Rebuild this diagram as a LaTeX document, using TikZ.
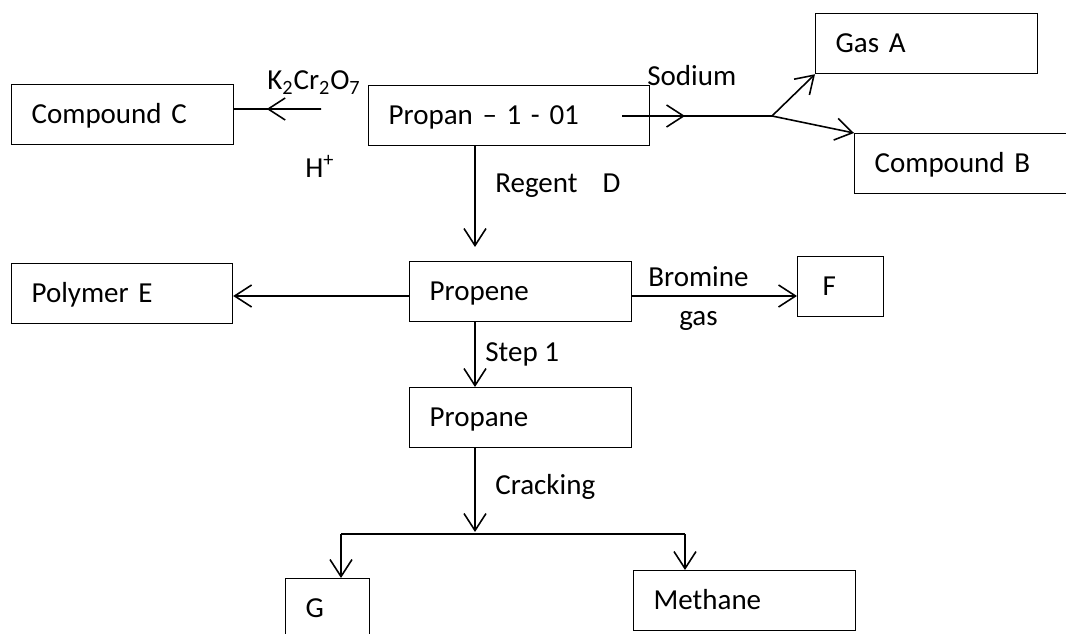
\documentclass[tikz,border=0pt]{standalone}
\usepackage{fontspec}
\setmainfont{Carlito}
\usetikzlibrary{calc,arrows.meta}
\tikzset{
  box/.style={draw, line width=0.7pt, align=left, inner xsep=0.4cm, inner ysep=0pt,
    minimum height=1.2cm, text height=0.45cm, text depth=0.1cm, anchor=north west},
  lbl/.style={anchor=base west, inner sep=0pt},
  link/.style={line width=0.9pt},
  >={Straight Barb[length=0.34cm,width=0.44cm]}
}

\begin{document}
\begin{tikzpicture}[x=0.02cm, y=-0.02cm, font=\fontsize{16.5}{20}\selectfont]
	%%%%% START %%%%%
	\useasboundingbox (0,0) rectangle (1066,634);
	\clip (0,0) rectangle (1066,634);
	
	\node[box, text width=3.64cm] (compC) at (11,84) {Compound C};
	\node[box, text width=4.82cm] (propanol) at (368,85) {Propan -- 1 - 01};
	\node[box, text width=3.64cm] (gasA) at (815,13) {Gas A};
	\node[box, text width=3.64cm] (compB) at (854,133) {Compound B};
	
	\node[box, text width=3.62cm] (polyE) at (11,263) {Polymer E};
	\node[box, text width=3.64cm] (propene) at (409,261) {Propene};
	\node[box, text width=0.72cm, inner xsep=0.5cm] (boxF) at (797,256) {F};
	\node[box, text width=3.64cm] (propane) at (409,387) {Propane};
	
	\node[box, text width=0.88cm] (boxG) at (285,578) {G};
	\node[box, text width=3.64cm] (methane) at (633,570) {Methane};
	
	\coordinate (oxStart) at (321,109);
	\coordinate (naStart) at (622,116);
	\coordinate (naSplit) at (772,116);
	\coordinate (axis) at (475,0);
	\coordinate (eLine) at (0,296);
	\coordinate (crack) at (475,534);
	\coordinate (crackL) at (341,534);
	\coordinate (crackR) at (685,534);
	
	\draw[link] (oxStart) -- (oxStart -| compC.east);
	\draw[link,->] (oxStart) -- ($(oxStart)!0.625!(oxStart -| compC.east)$);
	
	\draw[link] (naStart) -- (naSplit);
	\draw[link,->] (naStart) -- ($(naStart)!0.42!(naSplit)$);
	\draw[link,->] (naSplit) -- (gasA.south west);
	\draw[link,->] (naSplit) -- (compB.north west);
	
	\draw[link,->] (axis |- propanol.south) -- ($(axis |- propene.north)+(0,-14)$);
	\draw[link,->] (propene.west |- eLine) -- (polyE.east |- eLine);
	\draw[link,->] (propene.east |- eLine) -- (boxF.west |- eLine);
	\draw[link,->] (axis |- propene.south) -- (axis |- propane.north);
	
	\draw[link,->] (axis |- propane.south) -- ($(crack)+(0,-2)$);
	\draw[link] (crackL) -- (crackR);
	\draw[link,->] (crackL) -- (crackL |- boxG.north);
	\draw[link,->] (crackR) -- (crackR |- methane.north);
	
	\node[lbl] (oxLbl) at (267,90) {K\textsubscript{2}Cr\textsubscript{2}O\textsubscript{7}};
	\node[lbl] (acidLbl) at (305,178) {H\textsuperscript{+}};
	\node[lbl] (naLbl) at (647,86) {Sodium};
	\node[lbl] (regLbl) at (495,193) {Regent\hspace{0.5cm}D};
	\node[lbl] (brLbl) at (648,287) {Bromine};
	\node[lbl] (gasLbl) at (679,326) {gas};
	\node[lbl] (stepLbl) at (485,362) {Step 1};
	\node[lbl] (crLbl) at (495,495) {Cracking};
	
	%%%%% END %%%%%
\end{tikzpicture}
\end{document}
